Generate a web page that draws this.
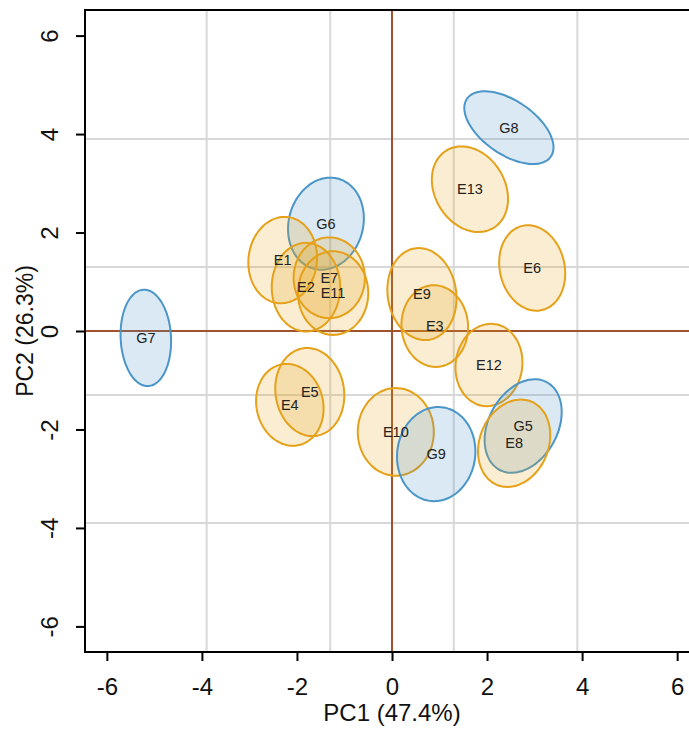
<!DOCTYPE html>
<html>
<head>
<meta charset="utf-8">
<script src="https://cdn.jsdelivr.net/npm/d3@7"></script>
<style>
	html, body { margin: 0; padding: 0; background: #fff; }
	svg { display: block; font-family: "Liberation Sans", Arial, sans-serif; }
</style>
</head>
<body>
<div id="pca-chart"></div>
<script>
// sample ellipses on the first two principal components
const names = ["G7", "G6", "E1", "E2", "E7", "E11", "E4", "E5", "E9", "E3", "E12", "E10", "G9", "G5", "E8", "G8", "E13", "E6"]
const groups = ["G", "G", "E", "E", "E", "E", "E", "E", "E", "E", "E", "E", "G", "G", "E", "G", "E", "E"]
const centerX = [-5.18, -1.39, -2.30, -1.81, -1.32, -1.24, -2.15, -1.73, 0.63, 0.90, 2.04, 0.08, 0.93, 2.76, 2.57, 2.46, 1.64, 2.95]
const centerY = [-0.14, 2.18, 1.44, 0.89, 1.08, 0.77, -1.50, -1.24, 0.75, 0.10, -0.69, -2.05, -2.50, -1.93, -2.28, 4.13, 2.88, 1.28]
const semiMajor = [0.98, 0.95, 0.88, 0.90, 0.82, 0.85, 0.84, 0.90, 0.94, 0.83, 0.84, 0.89, 0.96, 1.02, 0.92, 1.06, 0.93, 0.88]
const semiMinor = [0.53, 0.78, 0.72, 0.72, 0.75, 0.74, 0.70, 0.72, 0.72, 0.70, 0.70, 0.80, 0.82, 0.72, 0.72, 0.55, 0.73, 0.68]
const angleDeg = [93, 72, 82, 90, 90, 90, 105, 100, 100, 95, 80, 90, 80, 59, 65, -33, 125, 105]

const xTicks = [-6, -4, -2, 0, 2, 4, 6]
const yTicks = [-6, -4, -2, 0, 2, 4, 6]
const gridValues = [-3.9, -1.3, 1.3, 3.9]
const xTitle = "PC1 (47.4%)"
const yTitle = "PC2 (26.3%)"

const width = 689
const height = 729
const margin = { top: 10, right: -10, bottom: 77, left: 85 }

const colors = {
	E: { stroke: "#E5A11A", fill: "#E8A317" },
	G: { stroke: "#4A96C8", fill: "#4A90C9" },
}

const svg = d3
	.select("#pca-chart")
	.append("svg")
	.attr("width", width)
	.attr("height", height)

const xScale = d3
	.scaleLinear()
	.domain([-6.46, 6.46])
	.range([margin.left, width - margin.right])

const yScale = d3
	.scaleLinear()
	.domain([-6.52, 6.52])
	.range([height - margin.bottom, margin.top])

svg.append("defs")
	.append("clipPath")
	.attr("id", "plot-clip")
	.append("rect")
	.attr("x", margin.left)
	.attr("y", margin.top)
	.attr("width", width - margin.right - margin.left)
	.attr("height", height - margin.bottom - margin.top)

const plot = svg.append("g").attr("clip-path", "url(#plot-clip)")

// grey grid lines
plot.selectAll(".vgrid")
	.data(gridValues)
	.join("line")
	.attr("x1", (d) => xScale(d))
	.attr("x2", (d) => xScale(d))
	.attr("y1", yScale.range()[1])
	.attr("y2", yScale.range()[0])
	.attr("stroke", "#d8d8d8")
	.attr("stroke-width", 2)

plot.selectAll(".hgrid")
	.data(gridValues)
	.join("line")
	.attr("x1", xScale.range()[0])
	.attr("x2", xScale.range()[1])
	.attr("y1", (d) => yScale(d))
	.attr("y2", (d) => yScale(d))
	.attr("stroke", "#d8d8d8")
	.attr("stroke-width", 2)

// zero lines
plot.append("line")
	.attr("x1", xScale(0))
	.attr("x2", xScale(0))
	.attr("y1", yScale.range()[1])
	.attr("y2", yScale.range()[0])
	.attr("stroke", "#A0522D")
	.attr("stroke-width", 2)

plot.append("line")
	.attr("x1", xScale.range()[0])
	.attr("x2", xScale.range()[1])
	.attr("y1", yScale(0))
	.attr("y2", yScale(0))
	.attr("stroke", "#A0522D")
	.attr("stroke-width", 2)

// ellipse outline from centre, semi-axes and rotation (data units)
function ellipsePoints(i) {
	const th = (angleDeg[i] * Math.PI) / 180
	return d3.range(0, 360, 4).map((deg) => {
		const t = (deg * Math.PI) / 180
		const u = semiMajor[i] * Math.cos(t)
		const v = semiMinor[i] * Math.sin(t)
		return [
			centerX[i] + u * Math.cos(th) - v * Math.sin(th),
			centerY[i] + u * Math.sin(th) + v * Math.cos(th),
		]
	})
}

const ellipseLine = d3
	.line()
	.x((d) => xScale(d[0]))
	.y((d) => yScale(d[1]))
	.curve(d3.curveCardinalClosed)

plot.selectAll(".ellipse")
	.data(names.map((n, i) => i))
	.join("path")
	.attr("class", "ellipse")
	.attr("d", (i) => ellipseLine(ellipsePoints(i)))
	.attr("fill", (i) => colors[groups[i]].fill)
	.attr("fill-opacity", 0.2)
	.attr("stroke", (i) => colors[groups[i]].stroke)
	.attr("stroke-width", 2)

plot.selectAll(".label")
	.data(names.map((n, i) => i))
	.join("text")
	.attr("x", (i) => xScale(centerX[i]))
	.attr("y", (i) => yScale(centerY[i]))
	.attr("dy", "0.36em")
	.attr("text-anchor", "middle")
	.style("font-size", "14.5px")
	.style("fill", "#222")
	.text((i) => names[i])

// frame
svg.append("rect")
	.attr("x", margin.left)
	.attr("y", margin.top)
	.attr("width", width - margin.right - margin.left)
	.attr("height", height - margin.bottom - margin.top)
	.attr("fill", "none")
	.attr("stroke", "#000")
	.attr("stroke-width", 2)

// axes
const xAxis = svg
	.append("g")
	.attr("transform", `translate(0,${height - margin.bottom})`)
	.call(
		d3
			.axisBottom(xScale)
			.tickValues(xTicks)
			.tickFormat((d) => String(d))
			.tickSize(9)
			.tickPadding(17)
			.tickSizeOuter(0)
	)

const yAxis = svg
	.append("g")
	.attr("transform", `translate(${margin.left},0)`)
	.call(
		d3
			.axisLeft(yScale)
			.tickValues(yTicks)
			.tickFormat((d) => String(d))
			.tickSize(9)
			.tickSizeOuter(0)
	)

svg.selectAll(".domain").remove()
svg.selectAll(".tick line").attr("stroke", "#000").attr("stroke-width", 2)

xAxis.selectAll("text")
	.style("font-size", "24px")
	.style("font-family", "Liberation Sans, Arial, sans-serif")
	.attr("fill", "#111")

yAxis.selectAll("text")
	.attr("x", null)
	.attr("dy", null)
	.attr("transform", "translate(-27,0) rotate(-90)")
	.attr("text-anchor", "middle")
	.style("font-size", "24px")
	.style("font-family", "Liberation Sans, Arial, sans-serif")
	.attr("fill", "#111")

// axis titles
svg.append("text")
	.attr("x", xScale(0))
	.attr("y", 721)
	.attr("text-anchor", "middle")
	.style("font-size", "24px")
	.style("fill", "#111")
	.text(xTitle)

svg.append("text")
	.attr("transform", `translate(33,${yScale(0)}) rotate(-90)`)
	.attr("text-anchor", "middle")
	.style("font-size", "23px")
	.style("fill", "#111")
	.text(yTitle)
</script>
</body>
</html>
